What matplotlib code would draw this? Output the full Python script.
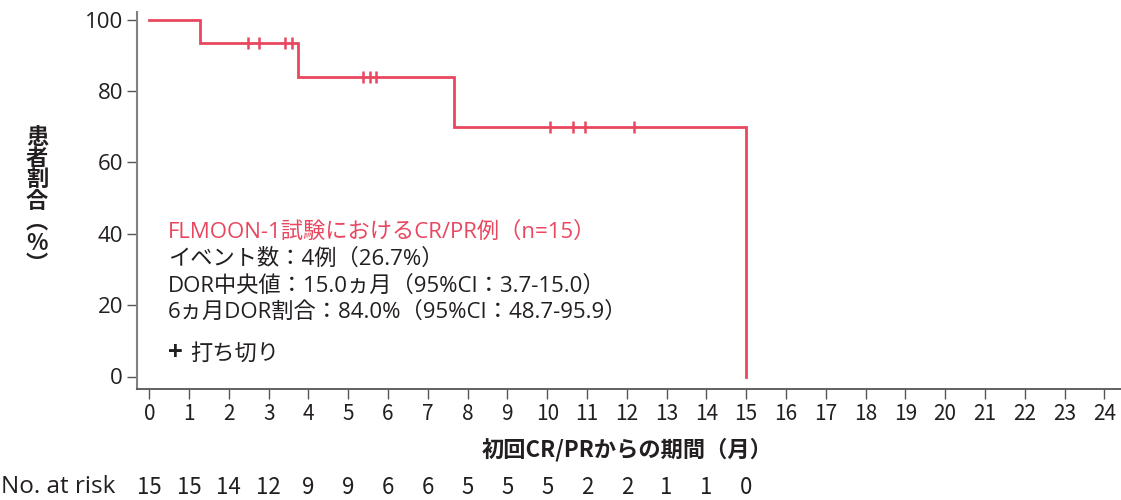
import matplotlib
matplotlib.use("Agg")
import matplotlib.pyplot as plt
import matplotlib.transforms as mtransforms

plt.rcParams['font.family'] = ['Noto Sans CJK JP', 'DejaVu Sans']
MIX = ['Open Sans', 'Noto Sans CJK JP', 'DejaVu Sans']

# ---- data ----
event_times = [0, 1.27, 3.74, 7.66, 15.0]
survival = [100, 93.3, 84.0, 70.0, 0.0]
censor_times = [2.49, 2.76, 3.42, 3.59, 5.36, 5.55, 5.70, 10.06, 10.64, 10.94, 12.19]
x_ticks = list(range(0, 25))
y_ticks = [0, 20, 40, 60, 80, 100]
risk_times = list(range(0, 16))
at_risk = [15, 15, 14, 12, 9, 9, 6, 6, 5, 5, 5, 2, 2, 1, 1, 0]

title_txt = "FLMOON-1試験におけるCR/PR例（n=15）"
info_lines = ["イベント数：4例（26.7%）",
              "DOR中央値：15.0ヵ月（95%CI：3.7-15.0）",
              "6ヵ月DOR割合：84.0%（95%CI：48.7-95.9）"]
censor_label = "打ち切り"
x_label = "初回CR/PRからの期間（月）"
y_label = "患者割合（%）"

RED = "#E8475F"
TXT = "#231F20"

fig = plt.figure(figsize=(11.21, 5.0), dpi=100)
ax = fig.add_axes([137/1121, 1-389/500, (1121-137)/1121, (389-11.7)/500])

# step curve
xs, ys = [], []
for i in range(len(event_times)):
    if i > 0:
        xs.append(event_times[i]); ys.append(survival[i-1])
    xs.append(event_times[i]); ys.append(survival[i])
ax.plot(xs, ys, color=RED, lw=2.0, solid_joinstyle='miter', zorder=3)

def surv_at(t):
    s = survival[0]
    for et, sv in zip(event_times, survival):
        if et <= t:
            s = sv
    return s

ax.plot(censor_times, [surv_at(t) for t in censor_times], ls='none', marker='|',
        ms=8.5, mew=1.8, color=RED, zorder=4)

x0_px = 149.3
px_per = (1104.3 - 149.3) / 24
ax.set_xlim(-(x0_px - 137) / px_per, (1121 - x0_px) / px_per)
ypp = (376.5 - 19.5) / 100
ax.set_ylim(-(389 - 376.5) / ypp, (376.5 - 11.7) / ypp)

ax.set_xticks(x_ticks)
ax.set_yticks(y_ticks)
ax.tick_params(axis='both', colors='#555555', labelcolor=TXT, length=7, width=1.0)
ax.tick_params(axis='x', pad=3, labelsize=15)
ax.tick_params(axis='y', pad=3, labelsize=16)
for lab in ax.get_yticklabels():
    lab.set_family(MIX)
for s in ['top', 'right']:
    ax.spines[s].set_visible(False)
ax.spines['left'].set_color('#808080')
ax.spines['left'].set_linewidth(1.5)
ax.spines['bottom'].set_color('#555555')
ax.spines['bottom'].set_linewidth(1.3)

# annotation text
tx = (168 - x0_px) / px_per
ax.text(tx, 40.5, title_txt, color=RED, fontsize=16, family=MIX, va='center', ha='left')
for i, line in enumerate(info_lines):
    ax.text(tx, 40.5 - (i + 1) * 7.55, line, color=TXT, fontsize=16, family=MIX, va='center', ha='left')
ax.text(tx, 6.5, "+", color=TXT, fontsize=18, fontweight='bold', va='center', ha='left')
ax.text((190 - x0_px) / px_per, 6.5, censor_label, color=TXT, fontsize=16, va='center', ha='left')

# axis labels
fig.text(627/1121, 1-450/500, x_label, fontsize=16, fontweight='bold', color=TXT, ha='center', va='center')
vert = "患\n者\n割\n合\n︵\n%\n︶"
fig.text(37/1121, 1-201/500, vert, fontsize=16, fontweight='bold', color=TXT,
         ha='center', va='center', linespacing=0.9)

# numbers at risk
trans = mtransforms.blended_transform_factory(ax.transData, fig.transFigure)
fig.text(0.001, 1-487/500, "No. at risk", fontsize=17.5, family=MIX, color=TXT, ha='left', va='center')
for t, n in zip(risk_times, at_risk):
    ax.text(t, 1-487/500, str(n), transform=trans, fontsize=16, color=TXT, ha='center', va='center', clip_on=False)

fig.savefig("out.png", dpi=100)
